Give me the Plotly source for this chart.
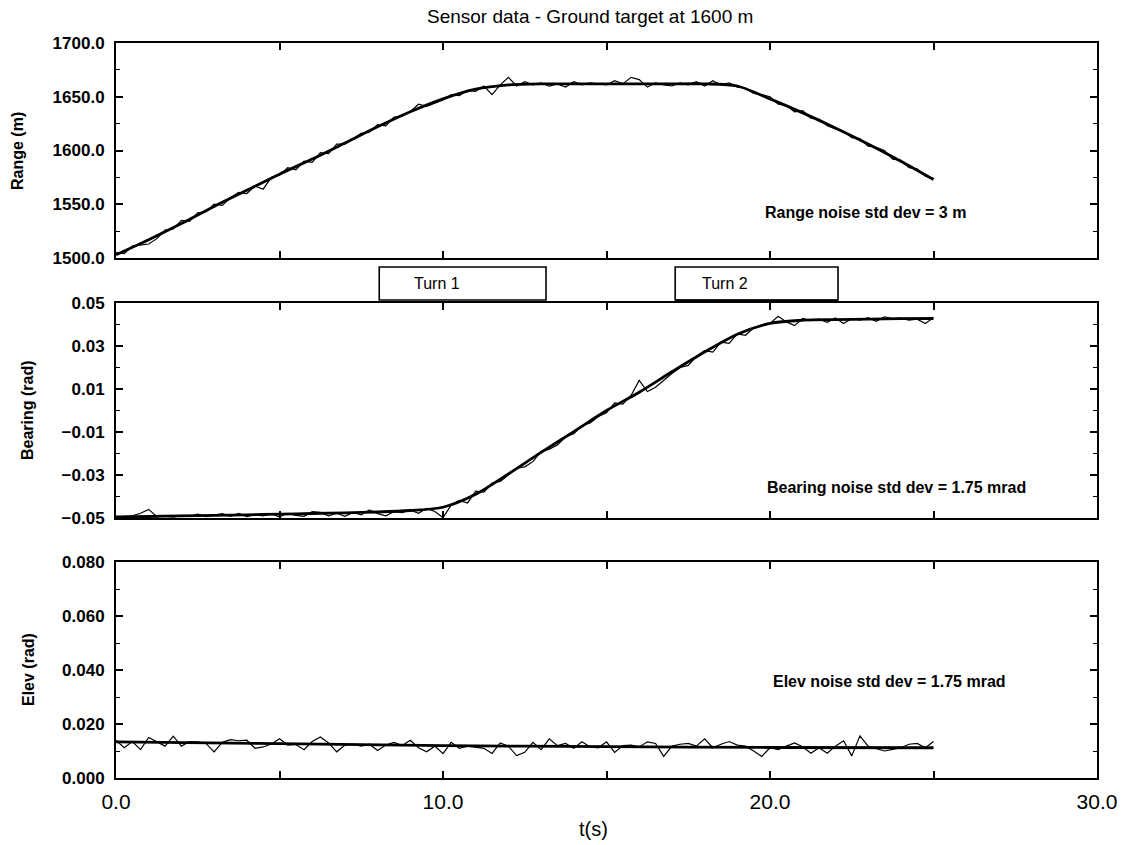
import plotly.graph_objects as go

# ---- sensor data -------------------------------------------------------
SAMPLE_PERIOD = 0.25          # measurement interval (s)
KNOT_TIMES = list(range(26))  # true-trajectory knots, 1 s apart
ELEV_KNOT_TIMES = [0, 5, 10, 15, 20, 25]

range_true = [1503, 1517, 1532, 1548, 1563, 1578, 1592, 1607, 1622, 1636,
              1648, 1657, 1661, 1662, 1662, 1662, 1662, 1662, 1662, 1660,
              1648, 1635, 1621, 1606, 1590, 1573]

range_meas = [1505, 1504, 1511, 1512, 1513, 1518, 1526, 1527, 1535, 1534,
              1542, 1543, 1550, 1549, 1556, 1561, 1560, 1567, 1564, 1575,
              1577, 1584, 1582, 1590, 1589, 1598, 1597, 1606, 1606, 1611,
              1616, 1617, 1624, 1623, 1631, 1632, 1636, 1643, 1641, 1644,
              1647, 1652, 1651, 1656, 1655, 1660, 1652, 1661, 1668, 1660,
              1664, 1661, 1663, 1660, 1662, 1659, 1664, 1661, 1663, 1662,
              1661, 1665, 1662, 1668, 1666, 1659, 1663, 1661, 1660, 1663,
              1661, 1664, 1660, 1665, 1661, 1663, 1659, 1658, 1653, 1652,
              1650, 1643, 1642, 1636, 1637, 1630, 1629, 1623, 1620, 1618,
              1612, 1611, 1604, 1603, 1600, 1592, 1591, 1584, 1583, 1576,
              1574]

bearing_true = [-0.0495, -0.0493, -0.0490, -0.0488, -0.0485, -0.0482, -0.0479,
                -0.0476, -0.0472, -0.0465, -0.0450, -0.0390, -0.0295, -0.0195,
                -0.0098, 0.0000, 0.0085, 0.0180, 0.0272, 0.0355, 0.0405,
                0.0420, 0.0423, 0.0425, 0.0427, 0.0428]

bearing_meas = [-0.0497, -0.0495, -0.0490, -0.0478, -0.0460, -0.0494, -0.0491,
                -0.0496, -0.0488, -0.0492, -0.0482, -0.0494, -0.0487, -0.0480,
                -0.0492, -0.0479, -0.0493, -0.0484, -0.0490, -0.0481, -0.0495,
                -0.0478, -0.0488, -0.0492, -0.0470, -0.0474, -0.0490, -0.0478,
                -0.0492, -0.0474, -0.0485, -0.0462, -0.0480, -0.0490, -0.0471,
                -0.0475, -0.0462, -0.0478, -0.0455, -0.0470, -0.0498, -0.0440,
                -0.0418, -0.0430, -0.0375, -0.0380, -0.0338, -0.0330, -0.0300,
                -0.0268, -0.0262, -0.0238, -0.0190, -0.0180, -0.0160, -0.0122,
                -0.0108, -0.0070, -0.0058, -0.0028, -0.0010, 0.0035, 0.0030,
                0.0070, 0.0140, 0.0088, 0.0108, 0.0142, 0.0172, 0.0200, 0.0210,
                0.0252, 0.0278, 0.0272, 0.0318, 0.0312, 0.0356, 0.0350, 0.0385,
                0.0398, 0.0405, 0.0438, 0.0412, 0.0395, 0.0428, 0.0418, 0.0425,
                0.0410, 0.0430, 0.0405, 0.0428, 0.0420, 0.0432, 0.0415, 0.0436,
                0.0428, 0.0430, 0.0420, 0.0425, 0.0405, 0.0432]

elev_true = [0.0134, 0.0127, 0.0120, 0.0116, 0.0113, 0.0112]

elev_meas = [0.0140, 0.0112, 0.0135, 0.0105, 0.0150, 0.0134, 0.0118, 0.0155,
             0.0118, 0.0135, 0.0134, 0.0128, 0.0097, 0.0132, 0.0142, 0.0138,
             0.0140, 0.0110, 0.0115, 0.0126, 0.0145, 0.0122, 0.0124, 0.0105,
             0.0135, 0.0152, 0.0130, 0.0097, 0.0122, 0.0125, 0.0118, 0.0125,
             0.0102, 0.0122, 0.0132, 0.0120, 0.0140, 0.0112, 0.0097, 0.0118,
             0.0090, 0.0132, 0.0110, 0.0118, 0.0115, 0.0110, 0.0091, 0.0130,
             0.0118, 0.0083, 0.0095, 0.0132, 0.0105, 0.0145, 0.0120, 0.0128,
             0.0110, 0.0134, 0.0115, 0.0112, 0.0134, 0.0095, 0.0120, 0.0122,
             0.0115, 0.0134, 0.0128, 0.0080, 0.0118, 0.0125, 0.0128, 0.0118,
             0.0145, 0.0112, 0.0125, 0.0135, 0.0122, 0.0118, 0.0100, 0.0080,
             0.0112, 0.0105, 0.0118, 0.0130, 0.0116, 0.0092, 0.0112, 0.0092,
             0.0118, 0.0138, 0.0082, 0.0156, 0.0118, 0.0108, 0.0100, 0.0106,
             0.0112, 0.0125, 0.0128, 0.0112, 0.0135]

meas_times = [i * SAMPLE_PERIOD for i in range(len(range_meas))]

x_tick_vals = [0, 5, 10, 15, 20, 25, 30]
x_tick_text = ["0.0", "", "10.0", "", "20.0", "", "30.0"]

turn_windows = [("Turn 1", 8.05, 13.15, 9.05), ("Turn 2", 17.1, 22.08, 17.85)]

noise_labels = ["Range noise std dev = 3 m",
                "Bearing noise std dev = 1.75 mrad",
                "Elev noise std dev = 1.75 mrad"]

# ---- layout geometry (pixels of the 1129 x 845 page) -------------------
W, H = 1129, 845
FONT = "Liberation Sans, Arial, sans-serif"


def py(px):
    """page pixel row -> paper y"""
    return 1 - px / H


def px_x(px):
    return px / W


panels = [  # (top px, bottom px)
    (43, 258),
    (303, 518),
    (562, 778),
]

fig = go.Figure()

series = [
    (range_true, range_meas, KNOT_TIMES),
    (bearing_true, bearing_meas, KNOT_TIMES),
    (elev_true, elev_meas, ELEV_KNOT_TIMES),
]

for i, (truth, meas, kt) in enumerate(series):
    xa = "x" if i == 0 else f"x{i + 1}"
    ya = "y" if i == 0 else f"y{i + 1}"
    fig.add_trace(go.Scatter(x=meas_times, y=meas, mode="lines",
                             line=dict(color="black", width=1.2),
                             xaxis=xa, yaxis=ya, showlegend=False,
                             hoverinfo="skip"))
    fig.add_trace(go.Scatter(x=kt, y=truth, mode="lines",
                             line=dict(color="black", width=2.8,
                                       shape="spline", smoothing=0.8),
                             xaxis=xa, yaxis=ya, showlegend=False,
                             hoverinfo="skip"))

y_specs = [
    dict(range=[1500, 1700], tickvals=[1500, 1550, 1600, 1650, 1700],
         tickformat=".1f", minor=dict(dtick=25, tick0=1500)),
    dict(range=[-0.05, 0.05], tickvals=[-0.05, -0.03, -0.01, 0.01, 0.03, 0.05],
         tickformat=".2f", minor=dict(dtick=0.01, tick0=-0.05)),
    dict(range=[0.0, 0.08], tickvals=[0.0, 0.02, 0.04, 0.06, 0.08],
         tickformat=".3f", minor=dict(dtick=0.01, tick0=0.0)),
]

layout = dict(
    width=W, height=H,
    margin=dict(l=0, r=0, t=0, b=0, autoexpand=False),
    paper_bgcolor="white", plot_bgcolor="white",
    font=dict(family=FONT, color="black"),
    showlegend=False,
)

x_domain = [px_x(116), px_x(1097)]
for i, (top, bot) in enumerate(panels):
    suffix = "" if i == 0 else str(i + 1)
    last = i == len(panels) - 1
    minor_y = dict(y_specs[i]["minor"])
    minor_y.update(ticks="inside", ticklen=4, tickwidth=1.3, tickcolor="black",
                   showgrid=False)
    layout["xaxis" + suffix] = dict(
        domain=x_domain, range=[0, 30], anchor="y" + suffix,
        tickvals=x_tick_vals, ticktext=x_tick_text,
        showticklabels=last, ticks="inside", ticklen=7, tickwidth=1.5,
        tickcolor="black", showline=True, linecolor="black", linewidth=2,
        mirror="allticks", showgrid=False, zeroline=False, automargin=False,
        tickfont=dict(family=FONT, size=21, color="black"),
        ticklabelstandoff=4,
    )
    layout["yaxis" + suffix] = dict(
        domain=[py(bot), py(top)], range=y_specs[i]["range"],
        anchor="x" + suffix, tickvals=y_specs[i]["tickvals"],
        tickformat=y_specs[i]["tickformat"],
        ticks="inside", ticklen=7, tickwidth=1.5, tickcolor="black",
        minor=minor_y,
        showline=True, linecolor="black", linewidth=2, mirror="allticks",
        showgrid=False, zeroline=False, automargin=False,
        tickfont=dict(family=FONT, size=17, color="black", weight="bold"),
        ticklabelstandoff=6,
    )

fig.update_layout(**layout)

annotations = [
    dict(text="Sensor data - Ground target at 1600 m", x=px_x(590), y=py(16),
         font=dict(size=19)),
    dict(text="t(s)", x=px_x(593), y=py(829), font=dict(size=20)),
    dict(text="Range (m)", x=px_x(18), y=py(151), textangle=-90,
         font=dict(size=16, weight="bold")),
    dict(text="Bearing (rad)", x=px_x(27), y=py(410), textangle=-90,
         font=dict(size=16, weight="bold")),
    dict(text="Elev (rad)", x=px_x(28), y=py(670), textangle=-90,
         font=dict(size=16, weight="bold")),
]
for label, xpx, ypx in zip(noise_labels, [763, 765, 771], [212, 487, 681]):
    annotations.append(dict(text=label, x=px_x(xpx), y=py(ypx), xanchor="left",
                            font=dict(size=16, weight="bold")))

shapes = []
box_top, box_bot = py(267), py(300)
for label, t0, t1, tx in turn_windows:
    shapes.append(dict(type="rect", xref="x3", yref="paper", x0=t0, x1=t1,
                       y0=box_bot, y1=box_top,
                       line=dict(color="black", width=1.6),
                       fillcolor="white", layer="above"))
    annotations.append(dict(text=label, x=tx, xref="x3", y=py(283),
                            xanchor="left", font=dict(size=16)))
# heavier lower edge of the second turn box
shapes.append(dict(type="line", xref="x3", yref="paper",
                   x0=turn_windows[1][1], x1=turn_windows[1][2],
                   y0=py(301), y1=py(301), line=dict(color="black", width=3)))

for a in annotations:
    a.setdefault("xref", "paper")
    a.setdefault("yref", "paper")
    a.setdefault("xanchor", "center")
    a.setdefault("yanchor", "middle")
    a.setdefault("showarrow", False)
    a["font"] = dict(family=FONT, color="black", **a.get("font", {}))

fig.update_layout(annotations=annotations, shapes=shapes)

fig.write_html("out.html")
